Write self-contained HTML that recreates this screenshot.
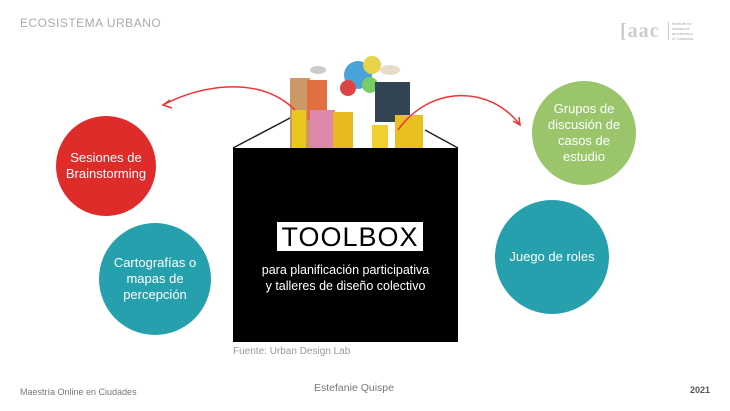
<!DOCTYPE html>
<html><head><meta charset="utf-8"><style>
body{margin:0;width:730px;height:411px;background:#fff;overflow:hidden;position:relative;font-family:"Liberation Sans","DejaVu Sans",sans-serif}
.t{position:absolute;white-space:nowrap}
.c{position:absolute;border-radius:50%;display:flex;align-items:center;justify-content:center;text-align:center;color:#fff;font-size:13px;line-height:16px}
</style></head><body>
<div class="t" style="left:20px;top:16px;font-size:12px;color:#aaa;letter-spacing:0.5px">ECOSISTEMA URBANO</div>
<div class="t" style="left:620px;top:20px;font-size:20px;font-weight:bold;color:#ccc;font-family:'Liberation Serif',serif;letter-spacing:1px">[aac</div>
<div style="position:absolute;left:668px;top:22px;width:1px;height:18px;background:#ccc"></div>
<div class="t" style="left:672px;top:21px;font-size:4px;line-height:5px;color:#aaa">Institute for<br>advanced<br>architecture<br>of Catalonia</div>

<svg style="position:absolute;left:0;top:0" width="730" height="411">
<line x1="233" y1="148" x2="292" y2="117" stroke="#222" stroke-width="1.5"/>
<line x1="458" y1="148" x2="425" y2="130" stroke="#222" stroke-width="1.5"/>
<rect x="233" y="148" width="225" height="194" fill="#000"/>
<!-- photo approximation -->
<circle cx="358" cy="75" r="14" fill="#4aa3d8"/><circle cx="372" cy="65" r="9" fill="#e8d34a"/><circle cx="348" cy="88" r="8" fill="#d44"/><circle cx="370" cy="85" r="8" fill="#7c6"/>
<rect x="290" y="78" width="20" height="70" fill="#c96"/>
<rect x="307" y="80" width="20" height="40" fill="#e07040"/>
<rect x="310" y="110" width="25" height="38" fill="#d8a"/>
<rect x="292" y="110" width="14" height="38" fill="#e8c820"/>
<rect x="333" y="112" width="20" height="36" fill="#e8b820"/>
<rect x="372" y="125" width="16" height="23" fill="#f0d030"/>
<rect x="375" y="82" width="35" height="40" fill="#345"/>
<rect x="395" y="115" width="28" height="33" fill="#e8c020"/>
<ellipse cx="390" cy="70" rx="10" ry="5" fill="#e8dcc8"/>
<ellipse cx="318" cy="70" rx="8" ry="4" fill="#ccc"/>
<path d="M163 105 C200 85,260 75,295 110" stroke="#e33" stroke-width="1.5" fill="none"/>
<path d="M170 100 L163 105 L172 108" stroke="#e33" stroke-width="1.5" fill="none"/>
<path d="M398 130 C430 85,490 85,520 125" stroke="#e33" stroke-width="1.5" fill="none"/>
<path d="M513 121 L520 125 L519 117" stroke="#e33" stroke-width="1.5" fill="none"/>
</svg>

<div class="c" style="left:56px;top:116px;width:100px;height:100px;background:#e02b2b">Sesiones de<br>Brainstorming</div>
<div class="c" style="left:99px;top:223px;width:112px;height:112px;background:#26a0ad">Cartografías o<br>mapas de<br>percepción</div>
<div class="c" style="left:532px;top:81px;width:104px;height:104px;background:#9ac56b">Grupos de<br>discusión de<br>casos de<br>estudio</div>
<div class="c" style="left:495px;top:200px;width:114px;height:114px;background:#26a0ad">Juego de roles</div>

<div class="t" style="left:277px;top:222px;width:146px;height:29px;background:#fff;color:#000;font-size:27px;line-height:30px;text-align:center;letter-spacing:1px">TOOLBOX</div>
<div class="t" style="left:233px;top:262px;width:225px;text-align:center;color:#fff;font-size:12.5px;line-height:16px">para planificación participativa<br>y talleres de diseño colectivo</div>
<div class="t" style="left:233px;top:346px;font-size:10px;color:#999">Fuente: Urban Design Lab</div>

<div class="t" style="left:20px;top:387px;font-size:9px;color:#777">Maestría Online en Ciudades</div>
<div class="t" style="left:314px;top:382px;font-size:10.5px;color:#777">Estefanie Quispe</div>
<div class="t" style="left:690px;top:385px;font-size:9px;color:#555;font-weight:bold">2021</div>
</body></html>
